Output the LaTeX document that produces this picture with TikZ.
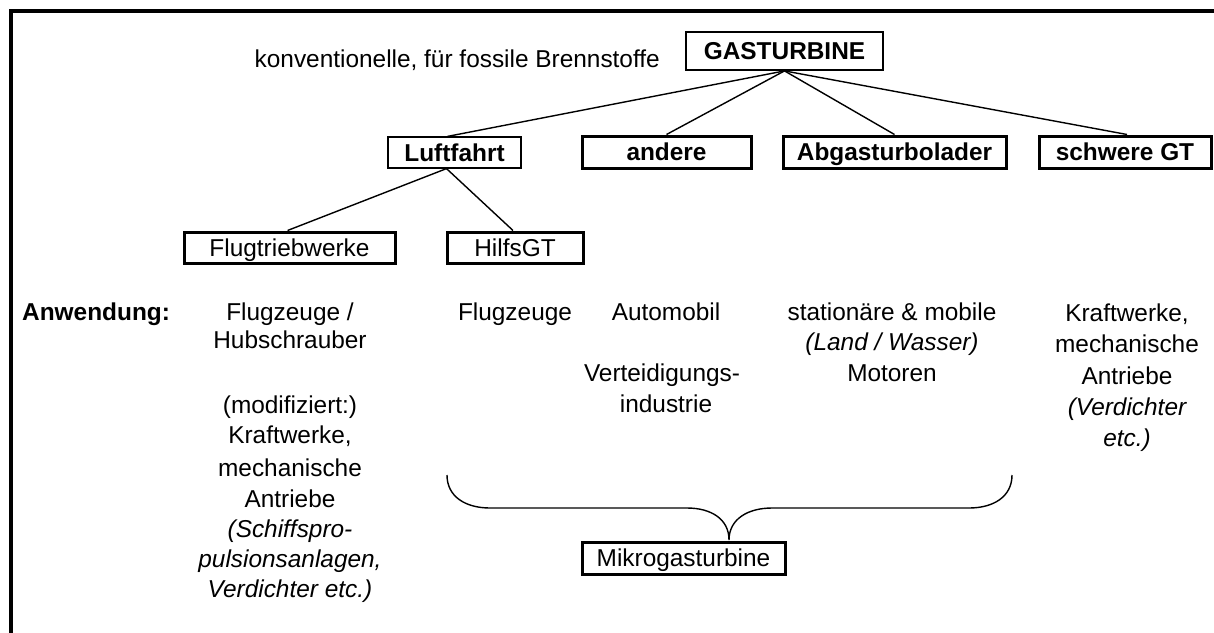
\documentclass[tikz,border=0pt]{standalone}
\usepackage{fontspec}
\setmainfont{Liberation Sans}
\newcommand\dfont{\fontsize{24.4}{29}\selectfont}
\begin{document}
\begin{tikzpicture}[x=1pt,y=-1pt,
  every node/.style={inner sep=0pt, font=\dfont},
  lbl/.style={anchor=base},
  ital/.style={anchor=base, font=\dfont\itshape},
  box/.style={draw, line width=3pt, text height=17.5pt, text depth=0pt, minimum height=32pt},
  bbox/.style={box, font=\dfont\bfseries},
  conn/.style={line width=1.4pt},
  frame/.style={line width=4.3pt}]
\useasboundingbox (0,0) rectangle (1214,632);
\draw[frame] (11,640) -- (11,11) -- (1220,11);

% boxes
\node[bbox, line width=1.8pt, minimum width=197pt, minimum height=38pt] (gt) at (784.5,51) {GASTURBINE};
\node[lbl, anchor=base east] (konv) at (660,67) {konventionelle, für fossile Brennstoffe};
\node[bbox, line width=1.2pt, minimum width=133pt, minimum height=31pt] (luft) at (454.5,152.5) {Luftfahrt};
\node[bbox, minimum width=169pt] (andere) at (666.5,152) {andere};
\node[bbox, minimum width=223pt] (abga) at (894.5,152) {Abgasturbolader};
\node[bbox, minimum width=172pt] (schwer) at (1125,152) {schwere GT};
\node[box, minimum width=211pt, minimum height=31pt] (flug) at (289.5,247.5) {Flugtriebwerke};
\node[box, minimum width=136pt, minimum height=31pt] (hilfs) at (515,247.5) {HilfsGT};
\node[box, minimum width=203pt] (mikro) at (683.5,558) {Mikrogasturbine};

% connectors
\draw[conn] (gt.south) -- ([xshift=-7pt]luft.north);
\draw[conn] (gt.south) -- (andere.north);
\draw[conn] (gt.south) -- (abga.north);
\draw[conn] (gt.south) -- ([xshift=2pt]schwer.north);
\draw[conn] ([xshift=-8pt]luft.south) -- ([xshift=-2pt]flug.north);
\draw[conn] ([xshift=-8pt]luft.south) -- ([xshift=-2pt]hilfs.north);

% application texts
\node[lbl, anchor=base west, font=\dfont\bfseries] (anw) at (22,320) {Anwendung:};
\node[lbl] (c1a) at (290,320) {Flugzeuge /};
\node[lbl] (c1b) at (290,348) {Hubschrauber};
\node[lbl] (c1c) at (290,413) {(modifiziert:)};
\node[lbl] (c1d) at (290,443) {Kraftwerke,};
\node[lbl] (c1e) at (290,476) {mechanische};
\node[lbl] (c1f) at (290,507) {Antriebe};
\node[ital] (c1g) at (290,537) {(Schiffspro-};
\node[ital] (c1h) at (290,567) {pulsionsanlagen,};
\node[ital] (c1i) at (290,597) {Verdichter etc.)};

\node[lbl] (c2a) at (515,320) {Flugzeuge};

\node[lbl] (c3a) at (666,320) {Automobil};
\node[lbl] (c3b) at (662,381) {Verteidigungs-};
\node[lbl] (c3c) at (666,412) {industrie};

\node[lbl] (c4a) at (892,320) {stationäre \& mobile};
\node[ital] (c4b) at (892,350) {(Land / Wasser)};
\node[lbl] (c4c) at (892,381) {Motoren};

\node[lbl] (c5a) at (1127,321) {Kraftwerke,};
\node[lbl] (c5b) at (1127,352) {mechanische};
\node[lbl] (c5c) at (1127,384) {Antriebe};
\node[ital] (c5d) at (1127,415) {(Verdichter};
\node[ital] (c5e) at (1127,446) {etc.)};

% brace
\draw[conn] (447,475) .. controls (447,497) and (466,508) .. (490,508) -- (687,508)
  .. controls (711,508) and (729,519) .. (729,540)
  .. controls (729,519) and (748,508) .. (772,508) -- (969,508)
  .. controls (993,508) and (1012,497) .. (1012,475);
\end{tikzpicture}
\end{document}
